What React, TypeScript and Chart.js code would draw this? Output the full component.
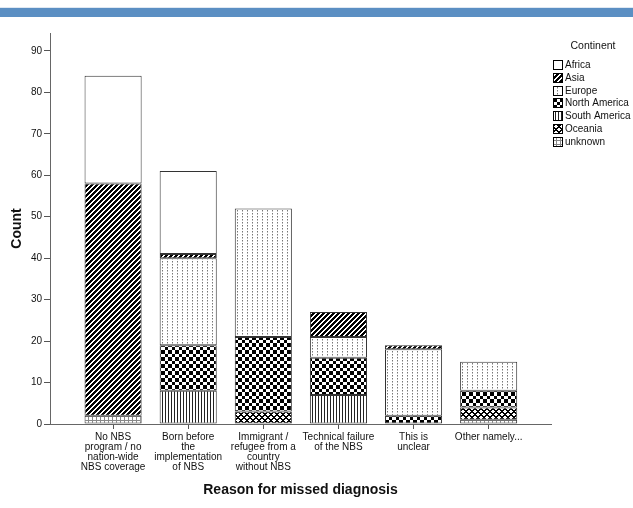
import React, { useEffect, useRef } from "react";
import { Chart, registerables } from "chart.js";

Chart.register(...registerables);

const FONT = "'Liberation Sans', Arial, sans-serif";

const categories: string[][] = [
  ["No NBS", "program / no", "nation-wide", "NBS coverage"],
  ["Born before", "the", "implementation", "of NBS"],
  ["Immigrant /", "refugee from a", "country", "without NBS"],
  ["Technical failure", "of the NBS"],
  ["This is", "unclear"],
  ["Other namely..."],
];

// stacked bottom-to-top
const unknownVals = [2, 0, 0, 0, 0, 1];
const oceaniaVals = [0, 0, 3, 0, 0, 3];
const southAmericaVals = [0, 8, 0, 7, 0, 0];
const northAmericaVals = [0, 11, 18, 9, 2, 4];
const europeVals = [0, 21, 31, 5, 16, 7];
const asiaVals = [56, 1, 0, 6, 1, 0];
const africaVals = [26, 20, 0, 0, 0, 0];

const yTicks = [0, 10, 20, 30, 40, 50, 60, 70, 80, 90];
const xTitle = "Reason for missed diagnosis";
const yTitle = "Count";
const legendTitle = "Continent";

type PixelFn = (x: number, y: number) => string | null;

function makePattern(w: number, h: number, fn: PixelFn): CanvasPattern | string {
  const cv = document.createElement("canvas");
  cv.width = w;
  cv.height = h;
  const c = cv.getContext("2d");
  if (!c) return "#fff";
  c.fillStyle = "#fff";
  c.fillRect(0, 0, w, h);
  for (let y = 0; y < h; y++) {
    for (let x = 0; x < w; x++) {
      const col = fn(x, y);
      if (col) {
        c.fillStyle = col;
        c.fillRect(x, y, 1, 1);
      }
    }
  }
  return c.createPattern(cv, "repeat") || "#fff";
}

function buildPatterns() {
  return {
    africa: "#ffffff",
    asia: makePattern(5, 5, (x, y) => ((x + y) % 5 < 3 ? "#000" : null)),
    europe: makePattern(5, 3, (x, y) => (x === 2 ? (y === 0 ? "#777" : y === 1 ? "#bbb" : null) : null)),
    northAmerica: makePattern(7, 7, (x, y) =>
      (Math.floor(x / 3.5) + Math.floor(y / 3.5)) % 2 === 0 ? "#000" : null
    ),
    southAmerica: makePattern(3, 1, (x) => (x === 0 ? "#222" : null)),
    oceania: makePattern(6, 6, (x, y) =>
      (x + y) % 6 < 2 || (x - y + 6) % 6 < 2 ? "#000" : null
    ),
    unknown: makePattern(4, 4, (x, y) => (y === 0 || x === 0 ? "#888" : null)),
  };
}

const legendPlugin = {
  id: "spssLegend",
  afterDraw(chart: any) {
    const { ctx, chartArea } = chart;
    const ds = chart.data.datasets.slice().reverse();
    const x0 = Math.round(chartArea.right + 2);
    ctx.save();
    ctx.font = `10.5px ${FONT}`;
    ctx.fillStyle = "#111";
    ctx.textAlign = "center";
    ctx.textBaseline = "middle";
    ctx.fillText(legendTitle, x0 + 40, 46);
    ctx.font = `10px ${FONT}`;
    ds.forEach((d: any, i: number) => {
      const y = Math.round(60 + i * 12.8);
      ctx.fillStyle = d.backgroundColor;
      ctx.fillRect(x0, y, 10, 10);
      ctx.strokeStyle = "#000";
      ctx.lineWidth = 1;
      ctx.strokeRect(x0 + 0.5, y + 0.5, 9, 9);
      ctx.fillStyle = "#111";
      ctx.textAlign = "left";
      ctx.fillText(d.label, x0 + 12, y + 5.5);
    });
    ctx.restore();
  },
};

export default function App() {
  const ref = useRef<HTMLCanvasElement | null>(null);

  useEffect(() => {
    if (!ref.current) return;
    const p = buildPatterns();
    const toPts = (arr: number[]) => arr.map((v, i) => ({ x: i, y: v }));
    const series: [string, number[], any][] = [
      ["unknown", unknownVals, p.unknown],
      ["Oceania", oceaniaVals, p.oceania],
      ["South America", southAmericaVals, p.southAmerica],
      ["North America", northAmericaVals, p.northAmerica],
      ["Europe", europeVals, p.europe],
      ["Asia", asiaVals, p.asia],
      ["Africa", africaVals, p.africa],
    ];
    const chart = new Chart(ref.current, {
      type: "bar",
      data: {
        datasets: series.map(([label, vals, bg]) => ({
          label,
          data: toPts(vals) as any,
          backgroundColor: bg,
          borderColor: "#333",
          borderWidth: 1,
          borderSkipped: false,
          barPercentage: 0.76,
          categoryPercentage: 1,
        })),
      },
      options: {
        animation: false,
        responsive: false,
        layout: { padding: { top: 33, right: 82, left: 0, bottom: 0 } },
        plugins: {
          legend: { display: false },
          tooltip: { enabled: false },
        },
        scales: {
          x: {
            type: "linear",
            stacked: true,
            offset: false,
            min: -0.84,
            max: 5.83,
            afterFit: (s: any) => {
              s.height = 84;
            },
            afterBuildTicks: (s: any) => {
              s.ticks = categories.map((_, i) => ({ value: i }));
            },
            ticks: {
              autoSkip: false,
              maxRotation: 0,
              minRotation: 0,
              padding: 3,
              color: "#111",
              font: { size: 10, family: FONT, lineHeight: 1.0 },
              callback: (v: any) => categories[Math.round(v as number)] ?? "",
            },
            grid: {
              offset: false,
              drawOnChartArea: false,
              drawTicks: true,
              tickLength: 5,
              color: "#555",
            },
            border: { display: true, color: "#666", width: 1 },
            title: {
              display: true,
              text: xTitle,
              color: "#111",
              font: { size: 14, weight: "bold", family: FONT, lineHeight: 1.2 },
              padding: { top: 0, bottom: 9 },
            },
          },
          y: {
            stacked: true,
            min: 0,
            max: 94.3,
            afterFit: (s: any) => {
              s.width = 50;
            },
            afterBuildTicks: (s: any) => {
              s.ticks = yTicks.map((v) => ({ value: v }));
            },
            ticks: {
              padding: 2,
              color: "#111",
              font: { size: 10, family: FONT },
            },
            grid: {
              drawOnChartArea: false,
              drawTicks: true,
              tickLength: 6,
              color: "#555",
            },
            border: { display: true, color: "#666", width: 1 },
            title: {
              display: true,
              text: yTitle,
              color: "#111",
              font: { size: 14, weight: "bold", family: FONT, lineHeight: 1.2 },
              padding: { top: 9, bottom: 0 },
            },
          },
        },
      },
      plugins: [legendPlugin],
    } as any);
    return () => chart.destroy();
  }, []);

  return (
    <div style={{ position: "absolute", left: 0, top: 0, width: 633, height: 508, background: "#fff" }}>
      <canvas ref={ref} width={633} height={508} style={{ display: "block", width: 633, height: 508 }} />
      <div style={{ position: "absolute", left: 0, top: 7, width: 633, height: 1, background: "#dfe8f2" }} />
      <div style={{ position: "absolute", left: 0, top: 8, width: 633, height: 9, background: "#5b8fc3" }} />
    </div>
  );
}
